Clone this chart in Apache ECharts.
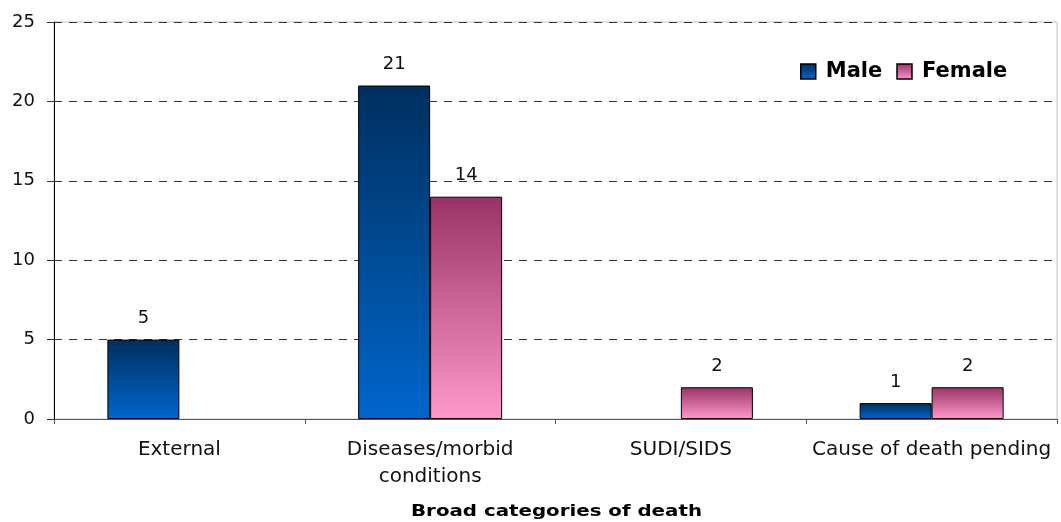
<!DOCTYPE html>
<html>
<head>
<meta charset="utf-8">
<script src="https://cdn.jsdelivr.net/npm/echarts@6/dist/echarts.min.js"></script>
<style>
  html, body { margin: 0; padding: 0; background: #fff; }
  #chart { width: 1061px; height: 522px; }
</style>
</head>
<body>
<div id="chart"></div>
<script>
// Deaths by broad category and sex
const categories = ['External', 'Diseases/morbid\nconditions', 'SUDI/SIDS', 'Cause of death pending'];
const maleValues = [5, 21, null, 1];
const femaleValues = [null, 14, 2, 2];
const yTicks = { min: 0, max: 25, interval: 5 };
const axisTitle = 'Broad categories of death';

const font = '"DejaVu Sans", Verdana, sans-serif';

function grad(top, bottom) {
  return new echarts.graphic.LinearGradient(0, 0, 0, 1, [
    { offset: 0, color: top },
    { offset: 1, color: bottom }
  ]);
}

const maleFill = () => grad('#002f5e', '#0066cc');
const femaleFill = () => grad('#993366', '#ff99cc');

const chart = echarts.init(document.getElementById('chart'), null, { renderer: 'canvas' });

const labelStyle = {
  show: true,
  position: 'top',
  distance: 12,
  color: '#111',
  fontSize: 18,
  fontFamily: font
};

chart.setOption({
  animation: false,
  backgroundColor: '#fff',
  grid: {
    left: 54, right: 4, top: 22, bottom: 103,
    outerBoundsMode: 'none',
    containLabel: false,
    show: true, borderColor: '#c4c4c4', borderWidth: 1
  },
  legend: {
    left: 795, top: 56,
    icon: 'rect',
    itemWidth: 15, itemHeight: 15, itemGap: 14,
    textStyle: { fontSize: 21, fontWeight: 'bold', color: '#000', fontFamily: font, padding: [0, 0, 0, 5] },
    data: [
      { name: 'Male', itemStyle: { color: maleFill(), borderColor: '#000', borderWidth: 1.5 } },
      { name: 'Female', itemStyle: { color: femaleFill(), borderColor: '#000', borderWidth: 1.5 } }
    ]
  },
  xAxis: {
    type: 'category',
    data: categories,
    axisLine: { lineStyle: { color: '#555', width: 1 } },
    axisTick: { show: true, inside: false, length: 5, alignWithLabel: false, lineStyle: { color: '#555' } },
    axisLabel: { fontSize: 20, color: '#111', fontFamily: font, margin: 17, lineHeight: 27, interval: 0 }
  },
  yAxis: {
    type: 'value',
    min: yTicks.min, max: yTicks.max, interval: yTicks.interval,
    axisLine: { show: true, lineStyle: { color: '#000', width: 1 } },
    axisTick: { show: true, length: 7, lineStyle: { color: '#333' } },
    axisLabel: { fontSize: 18, color: '#111', fontFamily: font, margin: 19 },
    splitLine: { show: true, lineStyle: { color: '#333', type: [8, 7], width: 1 } }
  },
  graphic: [
    {
      // x-axis title, set in wide bold lettering
      type: 'text',
      x: 556.5, y: 512,
      scaleX: 1.32,
      style: {
        text: axisTitle,
        fontSize: 15,
        fontWeight: 'bold',
        fontFamily: font,
        fill: '#000',
        align: 'center',
        verticalAlign: 'middle'
      }
    }
  ],
  series: [
    {
      name: 'Male',
      type: 'bar',
      data: maleValues,
      barWidth: 72,
      barGap: '0%',
      itemStyle: { color: maleFill(), borderColor: '#000', borderWidth: 1 },
      label: labelStyle
    },
    {
      name: 'Female',
      type: 'bar',
      data: femaleValues,
      barWidth: 72,
      barGap: '0%',
      itemStyle: { color: femaleFill(), borderColor: '#000', borderWidth: 1 },
      label: labelStyle
    }
  ]
});
</script>
</body>
</html>
